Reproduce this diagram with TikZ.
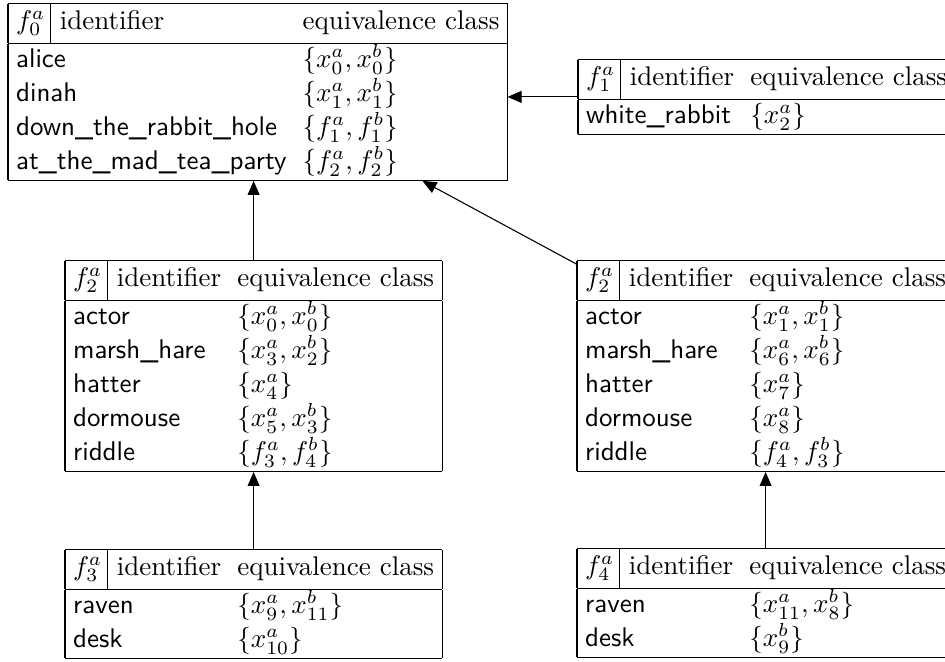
\documentclass[tikz,border=0pt]{standalone}
\usetikzlibrary{arrows.meta}
\newcommand{\idf}[1]{\textsf{#1}}
\newcommand{\hdstrut}{\rule[-5.0pt]{0pt}{14.3pt}}
\tikzset{
  tbl/.style={inner sep=0pt, outer sep=0pt, anchor=north west},
  conn/.style={line width=0.4pt, -{Triangle[length=5.2pt,width=4.4pt]}}
}
\setlength{\tabcolsep}{3pt}
\renewcommand{\arraystretch}{1.05}
\begin{document}
\begin{tikzpicture}[x=0.3704pt,y=-0.3704pt]
\useasboundingbox (0,0) rectangle (945,662);
\node[tbl] (T0) at (8,3) {\begin{tabular}{|ll|}\hline
\hdstrut$f^a_0$\,\vline\ identifier & equivalence class\\\hline
\idf{alice} & $\{x^a_0, x^b_0\}$\\
\idf{dinah} & $\{x^a_1, x^b_1\}$\\
\idf{down\_the\_rabbit\_hole} & $\{f^a_1, f^b_1\}$\\
\idf{at\_the\_mad\_tea\_party} & $\{f^a_2, f^b_2\}$\\\hline
\end{tabular}};
\node[tbl] (T1) at (578,59) {\begin{tabular}{|ll|}\hline
\hdstrut$f^a_1$\,\vline\ identifier & equivalence class\\\hline
\idf{white\_rabbit} & $\{x^a_2\}$\\\hline
\end{tabular}};
\node[tbl] (T2L) at (65,260) {\begin{tabular}{|ll|}\hline
\hdstrut$f^a_2$\,\vline\ identifier & equivalence class\\\hline
\idf{actor} & $\{x^a_0, x^b_0\}$\\
\idf{marsh\_hare} & $\{x^a_3, x^b_2\}$\\
\idf{hatter} & $\{x^a_4\}$\\
\idf{dormouse} & $\{x^a_5, x^b_3\}$\\
\idf{riddle} & $\{f^a_3, f^b_4\}$\\\hline
\end{tabular}};
\node[tbl] (T2R) at (577,260) {\begin{tabular}{|ll|}\hline
\hdstrut$f^a_2$\,\vline\ identifier & equivalence class\\\hline
\idf{actor} & $\{x^a_1, x^b_1\}$\\
\idf{marsh\_hare} & $\{x^a_6, x^b_6\}$\\
\idf{hatter} & $\{x^a_7\}$\\
\idf{dormouse} & $\{x^a_8\}$\\
\idf{riddle} & $\{f^a_4, f^b_3\}$\\\hline
\end{tabular}};
\node[tbl] (T3) at (65,549) {\begin{tabular}{|ll|}\hline
\hdstrut$f^a_3$\,\vline\ identifier & equivalence class\\\hline
\idf{raven} & $\{x^a_9, x^b_{11}\}$\\
\idf{desk} & $\{x^a_{10}\}$\\\hline
\end{tabular}};
\node[tbl] (T4) at (577,548) {\begin{tabular}{|ll|}\hline
\hdstrut$f^a_4$\,\vline\ identifier & equivalence class\\\hline
\idf{raven} & $\{x^a_{11}, x^b_8\}$\\
\idf{desk} & $\{x^b_9\}$\\\hline
\end{tabular}};
\draw[conn] (T1.west) -- (T1.west -| T0.east);
\draw[conn] (T2L.north) -- (T2L.north |- T0.south);
\draw[conn] (T2R) -- (T0);
\draw[conn] (T3.north) -- (T3.north |- T2L.south);
\draw[conn] (T4.north) -- (T4.north |- T2R.south);
\end{tikzpicture}
\end{document}
